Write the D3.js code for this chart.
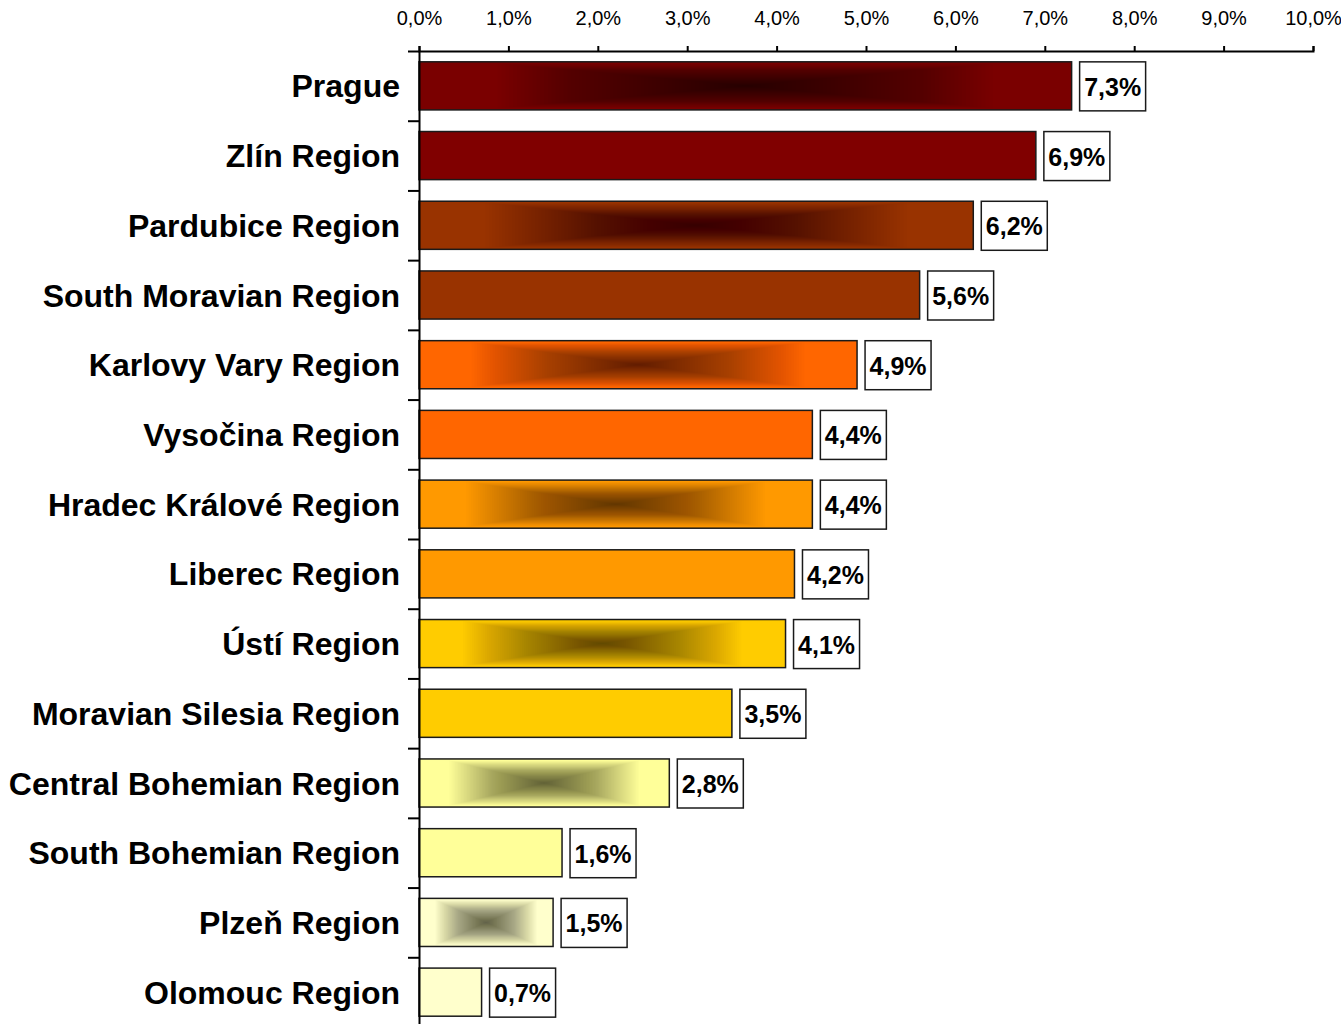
<!DOCTYPE html>
<html>
<head>
<meta charset="utf-8">
<script src="https://cdn.jsdelivr.net/npm/d3@7"></script>
<style>
    body { margin: 0; background: #fff; }
    text { font-family: "Liberation Sans", Arial, sans-serif; fill: #000; }
</style>
</head>
<body>
<div id="chart"></div>
<script>
'use strict';

// regions, top to bottom
var regions = [
    'Prague', 'Zlín Region', 'Pardubice Region', 'South Moravian Region',
    'Karlovy Vary Region', 'Vysočina Region', 'Hradec Králové Region',
    'Liberec Region', 'Ústí Region', 'Moravian Silesia Region',
    'Central Bohemian Region', 'South Bohemian Region', 'Plzeň Region',
    'Olomouc Region'
];
var shares = [7.3, 6.9, 6.2, 5.6, 4.9, 4.4, 4.4, 4.2, 4.1, 3.5, 2.8, 1.6, 1.5, 0.7];
var barColors = [
    '#7a0000', '#800000', '#993300', '#993300', '#ff6600', '#ff6600', '#ff9900',
    '#ff9900', '#ffcc00', '#ffcc00', '#ffff99', '#ffff99', '#ffffcc', '#ffffcc'
];
// bars drawn with the dark "from centre" fill
var shaded = [true, false, true, false, true, false, true, false, true, false, true, false, true, false];
var xTicks = [0, 1, 2, 3, 4, 5, 6, 7, 8, 9, 10];

var width = 1341, height = 1024;
var margin = { top: 51, left: 419, right: 28, bottom: -3 };

var fmt = function(v) { return v.toFixed(1).replace('.', ',') + '%'; };

var svg = d3.select('#chart').append('svg')
    .attr('width', width)
    .attr('height', height);

var x = d3.scaleLinear()
    .domain([0, 10])
    .range([margin.left, width - margin.right]);

var y = d3.scaleBand()
    .domain(regions)
    .range([margin.top, height - margin.bottom])
    .paddingInner(0.31)
    .paddingOuter(0.155);

// band boundaries for the left axis ticks
var yEdge = d3.scaleLinear()
    .domain([0, regions.length])
    .range([margin.top, height - margin.bottom]);

var data = regions.map(function(r, i) {
    return { name: r, value: shares[i], color: barColors[i], shaded: shaded[i] };
});

var bars = svg.selectAll('g.bar')
    .data(data)
    .enter().append('g')
    .attr('class', 'bar');

function barW(d) { return x(d.value) - x(0); }

bars.append('rect')
    .attr('x', x(0))
    .attr('y', function(d) { return y(d.name); })
    .attr('width', barW)
    .attr('height', y.bandwidth())
    .attr('fill', function(d) { return d.color; });

// rectangular gradient: stacked concentric rects, darker towards the middle
var steps = 64;
var stepAlpha = 1 - Math.pow(1 - 0.54, 1 / steps);
var insetX = function(t) { return 0.12 + 0.38 * t; };
var insetY = function(t) { return 0.03 + 0.47 * t; };
bars.filter(function(d) { return d.shaded; })
    .selectAll('rect.shade')
    .data(function(d) {
        return d3.range(steps).map(function(k) { return { bar: d, t: k / steps }; });
    })
    .enter().append('rect')
    .attr('class', 'shade')
    .attr('x', function(s) { return x(0) + barW(s.bar) * insetX(s.t); })
    .attr('y', function(s) { return y(s.bar.name) + y.bandwidth() * insetY(s.t); })
    .attr('width', function(s) { return barW(s.bar) * (1 - 2 * insetX(s.t)); })
    .attr('height', function(s) { return y.bandwidth() * (1 - 2 * insetY(s.t)); })
    .attr('fill', '#000')
    .attr('fill-opacity', stepAlpha);

bars.append('rect')
    .attr('x', x(0))
    .attr('y', function(d) { return y(d.name); })
    .attr('width', barW)
    .attr('height', y.bandwidth())
    .attr('fill', 'none')
    .attr('stroke', '#1a1a1a')
    .attr('stroke-width', 1.5);

// value boxes
var boxW = 66, boxH = 49;
bars.append('rect')
    .attr('x', function(d) { return x(d.value) + 8; })
    .attr('y', function(d) { return y(d.name) + y.bandwidth() / 2 - boxH / 2 + 0.5; })
    .attr('width', boxW)
    .attr('height', boxH)
    .attr('fill', '#fff')
    .attr('stroke', '#1a1a1a')
    .attr('stroke-width', 1.5);

bars.append('text')
    .attr('x', function(d) { return x(d.value) + 8 + boxW / 2; })
    .attr('y', function(d) { return y(d.name) + y.bandwidth() / 2 + 1; })
    .attr('dy', '0.36em')
    .attr('text-anchor', 'middle')
    .style('font-size', '25px')
    .style('font-weight', 'bold')
    .text(function(d) { return fmt(d.value); });

// category labels
svg.selectAll('text.cat')
    .data(data)
    .enter().append('text')
    .attr('class', 'cat')
    .attr('x', 400)
    .attr('y', function(d) { return y(d.name) + y.bandwidth() / 2; })
    .attr('dy', '0.36em')
    .attr('text-anchor', 'end')
    .style('font-size', '32px')
    .style('font-weight', 'bold')
    .text(function(d) { return d.name; });

// axes
var xAxis = svg.append('g')
    .attr('transform', 'translate(0,' + margin.top + ')')
    .call(d3.axisTop(x)
        .tickValues(xTicks)
        .tickSize(5)
        .tickPadding(21)
        .tickFormat(fmt));

var yAxis = svg.append('g')
    .attr('transform', 'translate(' + margin.left + ',0)')
    .call(d3.axisLeft(yEdge)
        .tickValues(d3.range(regions.length + 1))
        .tickSize(11)
        .tickSizeOuter(0)
        .tickFormat(''));

[xAxis, yAxis].forEach(function(a) {
    a.selectAll('path, line').attr('stroke', '#000').attr('stroke-width', 2);
});
xAxis.selectAll('text')
    .attr('fill', '#000')
    .style('font-family', '"Liberation Sans", Arial, sans-serif')
    .style('font-size', '20px');
</script>
</body>
</html>
